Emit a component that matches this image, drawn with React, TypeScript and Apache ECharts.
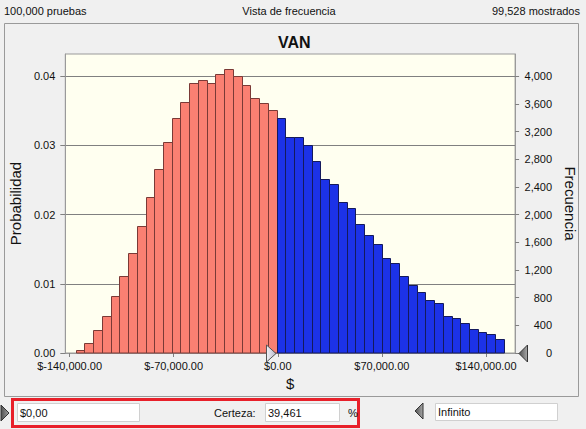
import React, { useEffect, useRef } from "react";
import * as echarts from "echarts";

// ---- data ----
const trials = 100000;
const probTicks = [0, 0.01, 0.02, 0.03, 0.04];
const freqTicks = [0, 400, 800, 1200, 1600, 2000, 2400, 2800, 3200, 3600, 4000];
const dollarTicks = [-140000, -70000, 0, 70000, 140000];
const binStart = -136000;
const binWidth = 5880;
// bins below $0 (left of certainty marker)
const lowerProbs = [
  0.0004, 0.0014, 0.0033, 0.0054, 0.0082, 0.0112, 0.0145, 0.0184, 0.0226, 0.0266,
  0.0305, 0.0339, 0.0363, 0.0391, 0.0395, 0.0391, 0.0404, 0.041, 0.04, 0.0388,
  0.0369, 0.0361, 0.0351,
];
// bins above $0 (inside certainty range)
const upperProbs = [
  0.034, 0.0312, 0.0312, 0.03, 0.0277, 0.0251, 0.0244, 0.0218, 0.021, 0.0187,
  0.0171, 0.0158, 0.0137, 0.013, 0.0112, 0.0098, 0.0088, 0.0076, 0.0072, 0.0053,
  0.005, 0.0044, 0.0035, 0.003, 0.0027, 0.002,
];
const probMax = 0.04322;
const xMin = -142900;
const xMax = 159600;

const FONT = '"Liberation Sans", Arial, sans-serif';

const lowerData = lowerProbs.map((p, i) => [binStart + i * binWidth, binStart + (i + 1) * binWidth, p]);
const upperData = upperProbs.map((p, i) => {
  const k = i + lowerProbs.length;
  return [binStart + k * binWidth, binStart + (k + 1) * binWidth, p];
});

const makeRender = (fill: string, stroke: string) => (params: any, api: any) => {
  const a = api.coord([api.value(0), 0]);
  const b = api.coord([api.value(1), api.value(2)]);
  const x0 = Math.round(a[0]) + 0.5;
  const x1 = Math.round(b[0]) + 0.5;
  const yTop = Math.round(b[1]) + 0.5;
  const yBot = Math.round(a[1]);
  return {
    type: "rect",
    shape: { x: x0, y: yTop, width: x1 - x0, height: yBot - yTop },
    style: { fill, stroke, lineWidth: 1 },
  };
};

const fmtDollar = (v: number) => {
  const s = Math.abs(v).toLocaleString("en-US") + ".00";
  return v < 0 ? "$-" + s : "$" + s;
};

const txt = (text: string, x: number, y: number, align = "left", size = 11, extra: any = {}) => ({
  type: "text",
  x,
  y,
  silent: true,
  style: { text, fill: "#111", font: `${size}px ${FONT}`, align, verticalAlign: "middle", ...extra },
});

const option: any = {
  animation: false,
  backgroundColor: "#f0f0f0",
  textStyle: { fontFamily: FONT },
  title: {
    text: "VAN",
    left: 273,
    top: 29,
    textStyle: { fontSize: 16, fontWeight: "bold", color: "#111", fontFamily: FONT },
  },
  grid: {
    left: 62,
    right: 69,
    top: 54,
    bottom: 76,
    show: true,
    backgroundColor: "#fffff0",
    borderColor: "#9a9a9a",
    borderWidth: 1,
  },
  xAxis: {
    type: "value",
    min: xMin,
    max: xMax,
    name: "$",
    nameLocation: "middle",
    nameGap: 20,
    nameTextStyle: { fontSize: 15, color: "#111", fontFamily: FONT },
    axisLine: { show: true, onZero: false, lineStyle: { color: "#9a9a9a" } },
    axisTick: { show: true, length: 4, lineStyle: { color: "#808080" }, customValues: dollarTicks },
    axisLabel: { customValues: dollarTicks, formatter: fmtDollar, fontSize: 11, color: "#111", margin: 7 },
    splitLine: { show: false },
  },
  yAxis: [
    {
      type: "value",
      min: 0,
      max: probMax,
      position: "left",
      name: "Probabilidad",
      nameLocation: "middle",
      nameGap: 35,
      nameTextStyle: { fontSize: 15, color: "#111", fontFamily: FONT },
      axisLine: { show: true, onZero: false, lineStyle: { color: "#9a9a9a" } },
      axisTick: { show: true, length: 5, lineStyle: { color: "#808080" }, customValues: probTicks },
      axisLabel: { customValues: probTicks, formatter: (v: number) => v.toFixed(2), fontSize: 11, color: "#111", margin: 10 },
      splitLine: { show: true, lineStyle: { color: "#808080", width: 1 } },
    },
    {
      type: "value",
      min: 0,
      max: probMax * trials,
      position: "right",
      name: "Frecuencia",
      nameLocation: "middle",
      nameRotate: -90,
      nameGap: 43,
      nameTextStyle: { fontSize: 15, color: "#111", fontFamily: FONT },
      axisLine: { show: true, onZero: false, lineStyle: { color: "#9a9a9a" } },
      axisTick: { show: true, length: 4, lineStyle: { color: "#808080" }, customValues: freqTicks },
      axisLabel: {
        customValues: freqTicks,
        formatter: (v: number) => v.toLocaleString("en-US"),
        fontSize: 11,
        color: "#111",
        align: "right",
        margin: 37,
      },
      splitLine: { show: false },
    },
  ],
  series: [
    {
      type: "custom",
      name: "lower",
      xAxisIndex: 0,
      yAxisIndex: 0,
      renderItem: makeRender("#fa8072", "#7a3a36"),
      encode: { x: [0, 1], y: 2 },
      data: lowerData,
    },
    {
      type: "custom",
      name: "upper",
      xAxisIndex: 0,
      yAxisIndex: 0,
      renderItem: makeRender("#1c32e8", "#141a5c"),
      encode: { x: [0, 1], y: 2 },
      data: upperData,
    },
  ],
  graphic: [
    // top header
    txt("100,000 pruebas", 4, 11),
    txt("Vista de frecuencia", 289, 11, "center"),
    txt("99,528 mostrados", 580, 11, "right"),
    // panel frame
    {
      type: "rect",
      silent: true,
      shape: { x: 4.5, y: 23.5, width: 574, height: 373 },
      style: { fill: "none", stroke: "#9a9a9a", lineWidth: 1 },
    },
    // certainty markers on the axis
    {
      type: "polygon",
      silent: true,
      z: 100,
      shape: { points: [[266.5, 345], [276, 353.5], [266.5, 362]] },
      style: {
        fill: new echarts.graphic.LinearGradient(0, 0, 1, 0, [
          { offset: 0, color: "#f2f2f8" },
          { offset: 1, color: "#b8b8c8" },
        ]),
        stroke: "#555",
        lineWidth: 1,
      },
    },
    {
      type: "polygon",
      silent: true,
      z: 100,
      shape: { points: [[527.5, 345], [519, 353.5], [527.5, 362]] },
      style: {
        fill: new echarts.graphic.LinearGradient(0, 0, 1, 0, [
          { offset: 0, color: "#505050" },
          { offset: 1, color: "#a8a8a8" },
        ]),
        stroke: "#333",
        lineWidth: 1,
      },
    },
    // bottom controls
    {
      type: "rect",
      silent: true,
      shape: { x: 12.5, y: 399.5, width: 346, height: 27 },
      style: { fill: "none", stroke: "#e8202a", lineWidth: 3 },
    },
    {
      type: "polygon",
      silent: true,
      shape: { points: [[1, 405], [9, 413], [1, 421]] },
      style: {
        fill: new echarts.graphic.LinearGradient(0, 0, 1, 0, [
          { offset: 0, color: "#505050" },
          { offset: 1, color: "#a0a0a0" },
        ]),
        stroke: "#333",
        lineWidth: 1,
      },
    },
    {
      type: "rect",
      silent: true,
      shape: { x: 17.5, y: 403.5, width: 122, height: 18 },
      style: { fill: "#ffffff", stroke: "#d0d0d0", lineWidth: 1 },
    },
    txt("$0,00", 20, 413),
    txt("Certeza:", 214, 413),
    {
      type: "rect",
      silent: true,
      shape: { x: 265.5, y: 403.5, width: 74, height: 18 },
      style: { fill: "#ffffff", stroke: "#d0d0d0", lineWidth: 1 },
    },
    txt("39,461", 268, 413),
    txt("%", 348, 413),
    {
      type: "polygon",
      silent: true,
      shape: { points: [[423, 403], [415, 411], [423, 419]] },
      style: {
        fill: new echarts.graphic.LinearGradient(0, 0, 1, 0, [
          { offset: 0, color: "#505050" },
          { offset: 1, color: "#a8a8a8" },
        ]),
        stroke: "#333",
        lineWidth: 1,
      },
    },
    {
      type: "rect",
      silent: true,
      shape: { x: 435.5, y: 403.5, width: 122, height: 17 },
      style: { fill: "#ffffff", stroke: "#d0d0d0", lineWidth: 1 },
    },
    txt("Infinito", 438, 412),
  ],
};

export default function App() {
  const ref = useRef<HTMLDivElement>(null);
  useEffect(() => {
    document.body.style.margin = "0";
    const chart = echarts.init(ref.current as HTMLDivElement, null, { renderer: "svg", width: 586, height: 429 });
    chart.setOption(option);
    return () => chart.dispose();
  }, []);
  return <div ref={ref} style={{ width: 586, height: 429, position: "absolute", left: 0, top: 0 }} />;
}
